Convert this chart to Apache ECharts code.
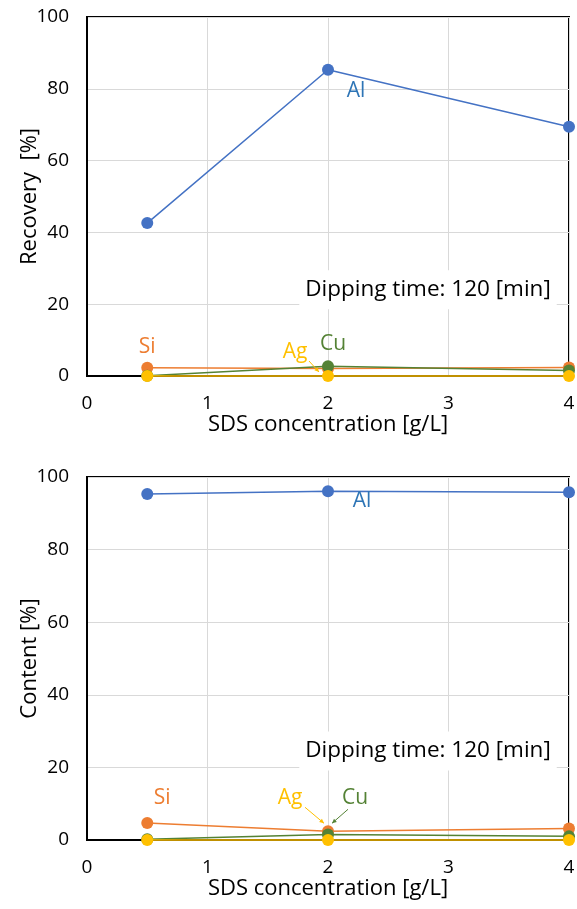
<!DOCTYPE html>
<html>
<head>
<meta charset="utf-8">
<script src="https://cdn.jsdelivr.net/npm/echarts@6/dist/echarts.min.js"></script>
<style>
html,body{margin:0;padding:0;background:#fff;}
#chart{width:577px;height:909px;}
</style>
</head>
<body>
<div id="chart"></div>
<script>
// SDS concentration [g/L]
var sdsConc = [0.5, 2, 4];
var xMin = 0, xMax = 4, xStep = 1;
var yMin = 0, yMax = 100, yStep = 20;

// Recovery [%]
var recAl = [42.6, 85.3, 69.4];
var recSi = [2.3, 2.1, 2.4];
var recCu = [0.1, 2.7, 1.5];
var recAg = [0, 0, 0];

// Content [%]
var conAl = [95.3, 96.1, 95.8];
var conSi = [4.7, 2.4, 3.2];
var conCu = [0.2, 1.5, 1.0];
var conAg = [0, 0, 0];

var colAl = '#4472C4', colSi = '#ED7D31', colCu = '#548235', colAg = '#FFC000';
var font = '"Open Sans", "Liberation Sans", sans-serif';

var myChart = echarts.init(document.getElementById('chart'));

function pairs(vals) {
    return sdsConc.map(function (x, i) { return [x, vals[i]]; });
}

function line(name, vals, color, idx, z) {
    return {
        name: name,
        type: 'line',
        xAxisIndex: idx,
        yAxisIndex: idx,
        data: pairs(vals),
        symbol: 'circle',
        symbolSize: 12,
        clip: false,
        z: z,
        lineStyle: {color: color, width: 1.5},
        itemStyle: {color: color}
    };
}

function xAx(idx) {
    return {
        type: 'value', gridIndex: idx, min: xMin, max: xMax, interval: xStep,
        name: 'SDS concentration [g/L]', nameLocation: 'middle', nameGap: 38, nameMoveOverlap: false,
        nameTextStyle: {fontSize: 22, color: '#000', fontFamily: font},
        axisLine: {show: true, lineStyle: {color: '#000', width: 2}},
        axisTick: {show: false},
        axisLabel: {fontSize: 19, color: '#000', fontFamily: font, margin: 18},
        splitLine: {show: true, lineStyle: {color: '#d9d9d9', width: 1}}
    };
}

function yAx(idx, name) {
    return {
        type: 'value', gridIndex: idx, min: yMin, max: yMax, interval: yStep,
        name: name, nameLocation: 'middle', nameGap: 46, nameMoveOverlap: false,
        nameTextStyle: {fontSize: 22, color: '#000', fontFamily: font},
        axisLine: {show: true, lineStyle: {color: '#000', width: 2}},
        axisTick: {show: false},
        axisLabel: {fontSize: 19, color: '#000', fontFamily: font, margin: 18},
        splitLine: {show: true, lineStyle: {color: '#d9d9d9', width: 1}}
    };
}

var option = {
    animation: false,
    backgroundColor: '#fff',
    grid: [
        {left: 87, right: 8, top: 17, height: 359, show: true, borderColor: '#000', borderWidth: 2, outerBoundsMode: 'none'},
        {left: 87, right: 8, top: 477, height: 363, show: true, borderColor: '#000', borderWidth: 2, outerBoundsMode: 'none'}
    ],
    xAxis: [xAx(0), xAx(1)],
    yAxis: [yAx(0, 'Recovery  [%]'), yAx(1, 'Content [%]')],
    series: [
        line('Al', recAl, colAl, 0, 2),
        line('Si', recSi, colSi, 0, 3),
        line('Cu', recCu, colCu, 0, 4),
        line('Ag', recAg, colAg, 0, 5),
        line('Al', conAl, colAl, 1, 2),
        line('Si', conSi, colSi, 1, 3),
        line('Cu', conCu, colCu, 1, 4),
        line('Ag', conAg, colAg, 1, 5)
    ]
};
myChart.setOption(option);

// annotations placed relative to data points
function px(g, x, y) { return myChart.convertToPixel({gridIndex: g}, [x, y]); }

function txt(g, x, y, dx, dy, s, color) {
    var p = px(g, x, y);
    return {
        type: 'text', x: p[0] + dx, y: p[1] + dy, z: 20,
        style: {text: s, fill: color, fontSize: 21, fontFamily: font, align: 'center', verticalAlign: 'middle'}
    };
}

function arrow(x1, y1, x2, y2, color) {
    var a = Math.atan2(y2 - y1, x2 - x1), h = 5;
    return [
        {type: 'line', z: 20, shape: {x1: x1, y1: y1, x2: x2, y2: y2}, style: {stroke: color, lineWidth: 1}},
        {type: 'polygon', z: 20, shape: {points: [[x2, y2],
            [x2 - h * Math.cos(a - 0.45), y2 - h * Math.sin(a - 0.45)],
            [x2 - h * Math.cos(a + 0.45), y2 - h * Math.sin(a + 0.45)]]}, style: {fill: color}}
    ];
}

function box(g, x, y, s) {
    var p = px(g, x, y);
    return {
        type: 'text', x: p[0], y: p[1], z: 10,
        style: {text: s, fill: '#000', fontSize: 22.5, fontFamily: font, align: 'center', verticalAlign: 'middle',
            backgroundColor: '#fff', padding: [8, 6]}
    };
}

var g = [];
// top panel
g.push(box(0, 2.83, 24, 'Dipping time: 120 [min]'));
g.push(txt(0, 2, recAl[1], 28, 21, 'Al', '#2E75B6'));
g.push(txt(0, 0.5, recSi[0], 0, -21, 'Si', colSi));
g.push(txt(0, 2, 0, -33, -24, 'Ag', colAg));
g.push(txt(0, 2, recCu[1], 5, -22, 'Cu', colCu));
var a0 = px(0, 2, 0);
g = g.concat(arrow(a0[0] - 19, a0[1] - 15, a0[0] - 9, a0[1] - 4, colAg));
// bottom panel
g.push(box(1, 2.83, 24.5, 'Dipping time: 120 [min]'));
g.push(txt(1, 2, conAl[1], 34, 10, 'Al', '#2E75B6'));
g.push(txt(1, 0.5, conSi[0], 15, -25, 'Si', colSi));
g.push(txt(1, 2, 0, -38, -42, 'Ag', colAg));
g.push(txt(1, 2, 0, 27, -42, 'Cu', colCu));
var b0 = px(1, 2, conSi[1]);
g = g.concat(arrow(b0[0] - 23, b0[1] - 24, b0[0] - 4, b0[1] - 8, colAg));
g = g.concat(arrow(b0[0] + 20, b0[1] - 22, b0[0] + 4, b0[1] - 8, colCu));

myChart.setOption({graphic: g});
window.addEventListener('resize', function () { myChart.resize(); });
</script>
</body>
</html>
